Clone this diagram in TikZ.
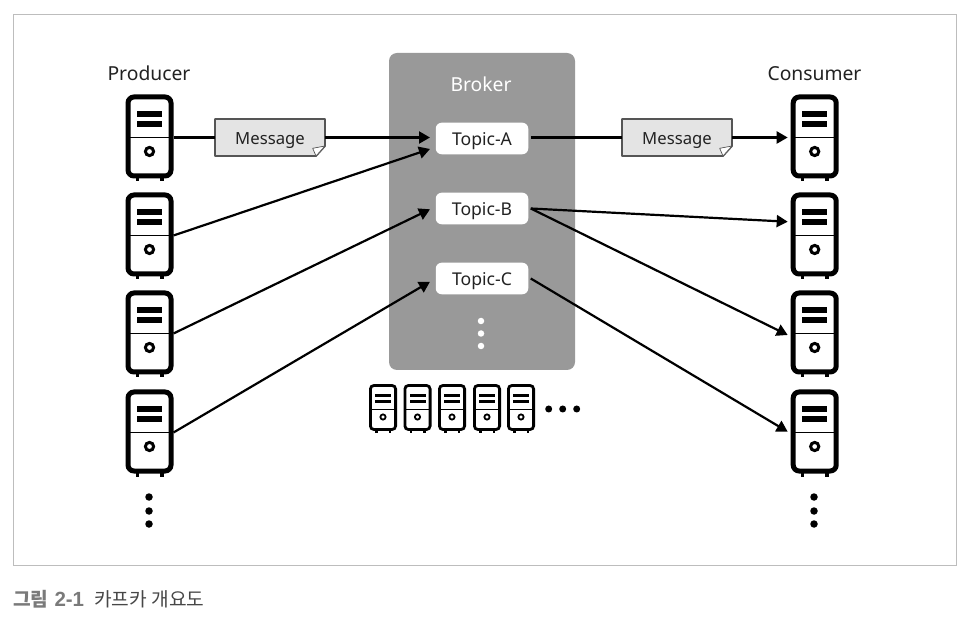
\documentclass[tikz,border=0pt]{standalone}
\usepackage{fontspec}
\setmainfont{Noto Sans}
\newfontfamily\krfont{Noto Sans CJK KR}
\newfontfamily\latinbold{Liberation Sans}
\usetikzlibrary{arrows.meta}
\definecolor{brokergray}{HTML}{999999}
\definecolor{framegray}{HTML}{BDBDBD}
\definecolor{notefill}{HTML}{E4E4E4}
\definecolor{notedraw}{HTML}{555555}
\definecolor{inktext}{HTML}{222222}
\tikzset{
  x=1pt,y=-1pt,
  case/.style={draw=black,line width=#1,fill=white,inner sep=0pt},
  topicbox/.style={fill=white,rounded corners=6pt,minimum width=92.5pt,minimum height=31.6pt,inner sep=0pt,outer sep=2.5pt,text height=14.8pt,text depth=0pt,font=\fontsize{17.6}{20}\selectfont,text=inktext},
  lbl/.style={font=\fontsize{19.3}{22}\selectfont,text=inktext,inner sep=0pt,text height=15.5pt,text depth=0pt},
  notebox/.style={minimum width=110pt,minimum height=37pt,inner sep=0pt,text height=13.5pt,text depth=0pt,font=\fontsize{16.7}{20}\selectfont,text=inktext},
  link/.style={line width=2.2pt,draw=black},
  arrow/.style={link,-{Triangle[length=11pt,width=12pt]}},
  dot/.style={circle,fill=black,inner sep=0pt,minimum size=7.5pt},
  wdot/.style={circle,fill=white,inner sep=0pt,minimum size=6.5pt}
}
% big server: name, centre x, top y
\newcommand{\bigserver}[3]{%
  \begin{scope}[shift={(#2,#3)}]
    \fill (-14,80) rectangle (-10.5,87);
    \fill (10.5,80) rectangle (14,87);
    \node[case=5pt,rounded corners=6pt,minimum width=43pt,minimum height=79pt] (#1) at (0,42) {};
    \draw[line width=1.7pt] (-21,43) -- (21,43);
    \fill (-12.5,16.7) rectangle (12.5,22.4);
    \fill (-12.5,27) rectangle (12.5,32.6);
    \draw[line width=3pt] (0,57) circle (4.1pt);
  \end{scope}}
% small server: name, centre x
\newcommand{\smallserver}[2]{%
  \begin{scope}[shift={(#2,384)}]
    \fill (-8,44) rectangle (-5.5,49.5);
    \fill (5.5,44) rectangle (8,49.5);
    \node[case=2.8pt,rounded corners=3.5pt,minimum width=25.2pt,minimum height=44pt] (#1) at (0,23.5) {};
    \draw[line width=1pt] (-12.5,26) -- (12.5,26);
    \fill (-8,10) rectangle (8,13.5);
    \fill (-8,16) rectangle (8,19.3);
    \draw[line width=1.8pt] (0,33) circle (2.6pt);
  \end{scope}}
% note: name, centre x, centre y
\newcommand{\notenode}[3]{%
  \begin{scope}[shift={(#2,#3)}]
    \draw[line width=1.8pt,draw=notedraw,fill=notefill,line join=round]
      (-55,-18.5) -- (55,-18.5) -- (55,8.5) -- (46,18.5) -- (-55,18.5) -- cycle;
    \draw[line width=.7pt,draw=notedraw,fill=white,line join=round] (55,8.5) -- (42.7,10.8) -- (46,18.5) -- cycle;
  \end{scope}
  \node[notebox] (#1) at (#2,#3) {Message};}
\begin{document}
\begin{tikzpicture}
\useasboundingbox (0,0) rectangle (970,620);
\fill[white] (0,0) rectangle (970,620);
\draw[framegray,line width=1pt] (13.5,15) rectangle (956,565);

\fill[brokergray,rounded corners=8pt] (389,53) rectangle (575,370);
\node[lbl,text=white] (brokerlabel) at (481,83.5) {Broker};
\node[topicbox] (ta) at (482,138.5) {Topic-A};
\node[topicbox] (tb) at (482,208.5) {Topic-B};
\node[topicbox] (tc) at (482,278.5) {Topic-C};
\node[wdot] (bd1) at (481,321) {};
\node[wdot] (bd2) at (481,333.5) {};
\node[wdot] (bd3) at (481,346) {};

\node[lbl] (prod) at (149,73) {Producer};
\node[lbl] (cons) at (814.5,73) {Consumer};

\coordinate (ina) at (430,137.5);
\coordinate (inb) at (430,149);
\coordinate (inc) at (430,209.3);
\coordinate (ind) at (430,281.7);
\coordinate (outb) at (787.7,221.7);
\coordinate (outc) at (787.7,335);
\coordinate (outd) at (787.7,431.7);

\bigserver{p1}{149.5}{94.5}
\bigserver{p2}{149.5}{192.5}
\bigserver{p3}{149.5}{290.5}
\bigserver{p4}{149.5}{389.5}
\bigserver{c1}{814.7}{94.5}
\bigserver{c2}{814.7}{192.5}
\bigserver{c3}{814.7}{290.5}
\bigserver{c4}{814.7}{389.5}

\notenode{ma}{270}{137.5}
\notenode{mb}{677}{137.5}

\draw[link] ([yshift=-1pt]p1.east) -- (ma.west);
\draw[arrow] (ma.east) -- (ina);
\draw[arrow] ([yshift=-1pt]p2.east) -- (inb);
\draw[arrow] ([yshift=-1pt]p3.east) -- (inc);
\draw[arrow] ([yshift=-1pt]p4.east) -- (ind);
\draw[link] (ta.east |- mb.west) -- (mb.west);
\draw[arrow,shorten >=3pt] (mb.east) -- ([yshift=-1pt]c1.west);
\draw[arrow] (tb.east) -- (outb);
\draw[arrow] (tb.east) -- (outc);
\draw[arrow] (tc.east) -- (outd);

\smallserver{s1}{383}
\smallserver{s2}{417.5}
\smallserver{s3}{452}
\smallserver{s4}{487}
\smallserver{s5}{521}

\node[dot,minimum size=7pt] (h1) at (548.7,409) {};
\node[dot,minimum size=7pt] (h2) at (562.7,409) {};
\node[dot,minimum size=7pt] (h3) at (576.7,409) {};
\foreach \n/\yy in {a/497,b/511,c/524}{
  \node[dot] (pd\n) at (149,\yy) {};
  \node[dot] (cd\n) at (814,\yy) {};
}
\node[anchor=west,inner sep=0pt,font=\fontsize{19.2}{22}\selectfont,text=black!72] (cap) at (13,599)
  {{\color{black!52}{\krfont\bfseries 그림}\hspace{1pt} {\latinbold\fontsize{20.5}{22}\selectfont\bfseries 2-1}}\hspace{10pt}{\krfont 카프카 개요도}};
\end{tikzpicture}
\end{document}
